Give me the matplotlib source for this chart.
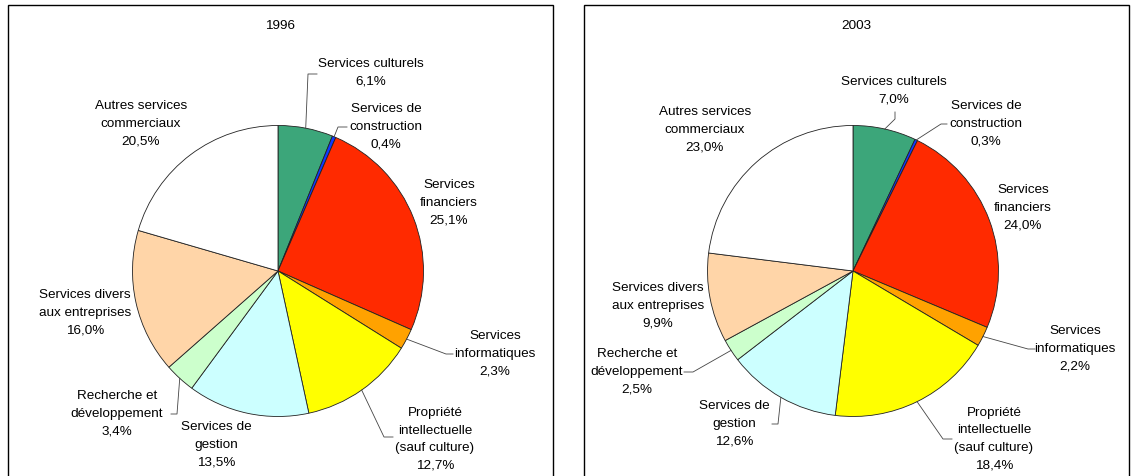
import matplotlib
matplotlib.use("Agg")
import numpy as np
from matplotlib import pyplot as plt
from matplotlib.patches import Rectangle

plt.rcParams['font.family'] = ['Liberation Sans', 'DejaVu Sans']

# categories (clockwise from 12 o'clock)
categories = ["Services culturels", "Services de\nconstruction", "Services\nfinanciers",
              "Services\ninformatiques", "Propriété\nintellectuelle\n(sauf culture)",
              "Services de\ngestion", "Recherche et\ndéveloppement",
              "Services divers\naux entreprises", "Autres services\ncommerciaux"]
parts_1996 = [6.1, 0.4, 25.1, 2.3, 12.7, 13.5, 3.4, 16.0, 20.5]
parts_2003 = [7.0, 0.3, 24.0, 2.2, 18.4, 12.6, 2.5, 9.9, 23.0]
years = ["1996", "2003"]

colors = ['#3CA67A', '#1038FF', '#FF2A00', '#FFA200', '#FFFF00',
          '#CCFFFF', '#CCFFCC', '#FFD5A8', '#FFFFFF']

W, H = 1135, 476
R = 145.5
FS = 9.7
# layout in pixels: panel box, pie centre, title, label centres, leader elbows
panels = [
    dict(box=(8, 553), c=(278, 271), title=(280, 26),
         labels=[(371, 72.5), (386, 127), (449, 203), (495, 354), (435, 439.5),
                 (216, 445), (117, 414), (85, 313), (141, 124)],
         leaders={0: [(308, 74), (317, 74)], 1: [(338, 127), (347, 127)],
                  3: [(446, 354), (453, 354)], 4: [(384, 437), (393, 437)],
                  6: [(177, 414), (171, 414)]}),
    dict(box=(584, 1129), c=(853, 271), title=(856, 26),
         labels=[(894, 91), (986, 124), (1023, 208), (1075, 349), (994, 439),
                 (734, 424), (637, 372), (658, 306), (705, 130)],
         leaders={0: [(895, 119), (895, 112)], 1: [(941, 124), (947, 124)],
                  3: [(1028, 349), (1035, 349)], 4: [(943, 439), (952, 439)],
                  5: [(778, 424), (772, 424)], 6: [(693, 372), (684, 372)]}),
]

fig = plt.figure(figsize=(W / 100, H / 100), dpi=100)

for year, parts, p in zip(years, [parts_1996, parts_2003], panels):
    x0, x1 = p['box']
    fig.add_artist(Rectangle((x0 / W, -0.05), (x1 - x0) / W, 1.05 - 5 / H,
                             transform=fig.transFigure, fill=False,
                             edgecolor='black', lw=1.0))
    fig.text(p['title'][0] / W, 1 - p['title'][1] / H, year, ha='center',
             va='center', fontsize=FS)

    cx, cy = p['c']
    ax = fig.add_axes([(cx - R) / W, (H - cy - R) / H, 2 * R / W, 2 * R / H])
    wedges, _ = ax.pie(parts, colors=colors, startangle=90, counterclock=False,
                       radius=1, wedgeprops=dict(edgecolor='#222222', linewidth=0.6))
    ax.set_xlim(-1, 1)
    ax.set_ylim(-1, 1)
    ax.axis('off')

    def to_data(pt):
        return ((pt[0] - cx) / R, (cy - pt[1]) / R)

    for i, (w, name, v) in enumerate(zip(wedges, categories, parts)):
        lx, ly = to_data(p['labels'][i])
        txt = name + "\n" + f"{v:.1f}".replace('.', ',') + "%"
        ax.text(lx, ly, txt, ha='center', va='center', fontsize=FS,
                linespacing=1.62, clip_on=False)
        if i in p['leaders']:
            ang = np.deg2rad((w.theta1 + w.theta2) / 2)
            pts = [(np.cos(ang), np.sin(ang))] + [to_data(q) for q in p['leaders'][i]]
            xs, ys = zip(*pts)
            ax.plot(xs, ys, color='#444444', lw=0.6, clip_on=False)

fig.savefig("out.png", dpi=100)
